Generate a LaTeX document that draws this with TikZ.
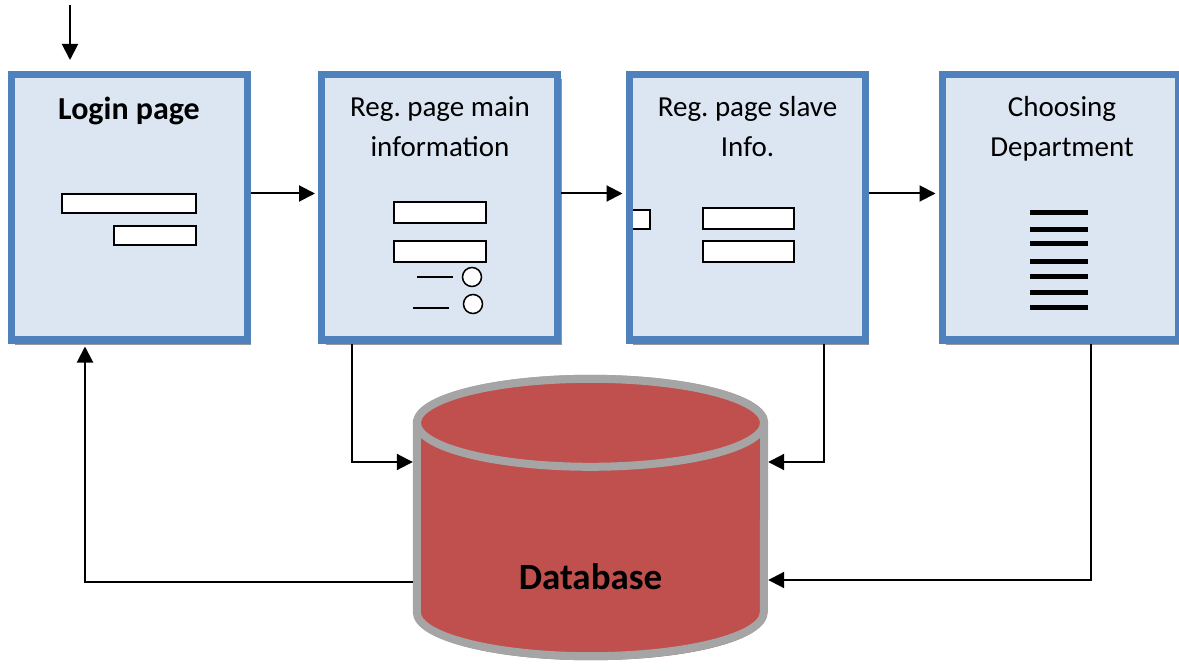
\documentclass[tikz,border=0pt]{standalone}
\usepackage{fontspec}
\setmainfont{Carlito}
\usetikzlibrary{arrows.meta,shadows}
\definecolor{pageblue}{HTML}{4F81BD}
\definecolor{pagefill}{HTML}{DCE6F2}
\definecolor{dbred}{HTML}{C0504D}
\definecolor{dbgray}{HTML}{A5A5A5}

\begin{document}
\begin{tikzpicture}[x=1pt,y=-1pt,node distance=310pt,>={Triangle[length=16pt,width=16pt]}]
		\tikzstyle{page} = [rectangle, draw=pageblue, line width=7pt, fill=pagefill, minimum width=236pt, minimum height=265.5pt, inner sep=0pt, drop shadow={shadow xshift=4pt, shadow yshift=-5pt, fill=black!40, opacity=1}]
		\tikzstyle{title} = [anchor=base, align=center, inner sep=0pt, font=\fontsize{29}{40}\selectfont]
		\tikzstyle{field} = [draw=black, fill=white, line width=1.5pt]
		\tikzstyle{link} = [->, line width=2pt]
		\useasboundingbox (0,0) rectangle (1179,671);
		\node (login) [page] at (129,207.25) {};
		\node (main) [page, right of=login, node distance=310.5pt] {};
		\node (slave) [page, right of=main, node distance=307.5pt] {};
		\node (dept) [page, right of=slave, node distance=313pt] {};
		\node (t1) [title, font=\fontsize{32}{40}\selectfont\bfseries] at (129,120) {Login page};
		\node (t2) [title] at (440,157) {Reg.\ page main\\information};
		\node (t3) [title] at (747.5,157) {Reg.\ page slave\\Info.};
		\node (t4) [title] at (1062,157) {Choosing\\Department};
		\draw[field] (62,194) rectangle (196,213);
		\draw[field] (114,226) rectangle (196,245);
		\draw[field] (394,202) rectangle (486,223);
		\draw[field] (394,241) rectangle (486,262);
		\draw[line width=1.5pt] (417,277) -- (453,277);
		\draw[field] (472,277) circle (9.5pt);
		\draw[line width=1.5pt] (413,308) -- (449,308);
		\draw[field] (473,304) circle (9.5pt);
		\draw[field] (703,208) rectangle (794,229);
		\draw[field] (703,241) rectangle (794,262);
		\draw[field] (633,210) -- (650,210) -- (650,229) -- (633,229);
		\foreach \y in {213,230,244,262,277,293,308}
			\draw[line width=5pt] (1030,\y) -- (1088,\y);
		\node (db) [minimum width=347pt, minimum height=189pt, inner sep=0pt] at (590.5,517.5) {};
		\draw[dbgray, line width=8pt, fill=dbred, drop shadow={shadow xshift=1pt, shadow yshift=-4pt, fill=dbred!40!gray, opacity=1}] (db.north west) -- (db.south west) arc[start angle=180, end angle=360, x radius=173.5pt, y radius=44pt] -- (db.north east) arc[start angle=0, end angle=180, x radius=173.5pt, y radius=44pt] -- cycle;
		\draw[dbgray, line width=8pt, fill=dbred] (db.north) ellipse [x radius=173.5pt, y radius=44pt];
		\node (dblabel) [font=\fontsize{37}{44}\selectfont\bfseries] at (590.5,577) {Database};
		\coordinate (in) at (70,5);
		\draw[link, shorten >=11pt] (in) -- ([xshift=-59pt]login.north);
		\draw[link, shorten >=3pt] ([yshift=13.75pt]login.east) -- ([yshift=13.75pt]main.west);
		\draw[link, shorten >=3pt] ([yshift=13.75pt]main.east) -- ([yshift=13.75pt]slave.west);
		\draw[link, shorten >=3pt] ([yshift=13.75pt]slave.east) -- ([yshift=13.75pt]dept.west);
		\draw[link, shorten >=4pt] ([xshift=-87.5pt]main.south) |- ([yshift=55.5pt]db.west);
		\draw[link, shorten >=4pt] ([xshift=77pt]slave.south) |- ([yshift=55.5pt]db.east);
		\draw[link, shorten >=4pt] ([xshift=31pt]dept.south) |- ([yshift=-62.5pt]db.east);
		\draw[link, shorten <=4pt, shorten >=3pt] ([yshift=-64.5pt]db.west) -| ([xshift=-44pt]login.south);
	\end{tikzpicture}
\end{document}
